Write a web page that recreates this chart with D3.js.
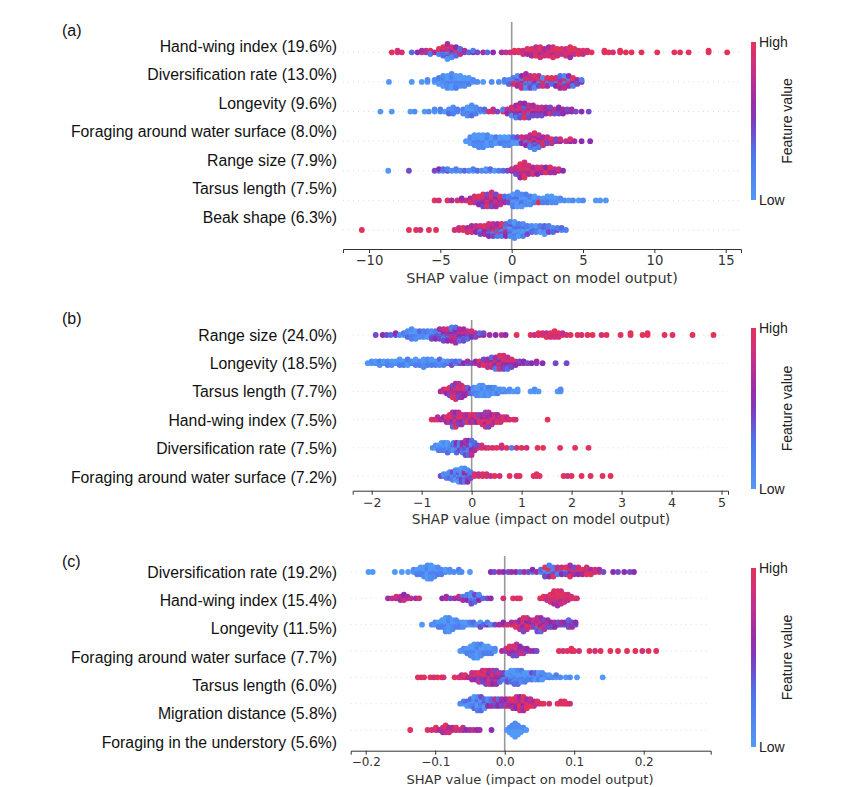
<!DOCTYPE html>
<html>
<head>
<meta charset="utf-8">
<script src="https://cdn.jsdelivr.net/npm/d3@7"></script>
<style>
  body { margin: 0; background: #fff; }
  text { font-family: "Liberation Sans", Arial, sans-serif; }
  .tick text, .xlab { font-family: "DejaVu Sans", sans-serif; }
</style>
</head>
<body>
<div id="chart"></div>
<script>
// feature labels (mean |SHAP| share in brackets)
var labelsA = ["Hand-wing index (19.6%)", "Diversification rate (13.0%)", "Longevity (9.6%)",
  "Foraging around water surface (8.0%)", "Range size (7.9%)", "Tarsus length (7.5%)", "Beak shape (6.3%)"];
var labelsB = ["Range size (24.0%)", "Longevity (18.5%)", "Tarsus length (7.7%)", "Hand-wing index (7.5%)",
  "Diversification rate (7.5%)", "Foraging around water surface (7.2%)"];
var labelsC = ["Diversification rate (19.2%)", "Hand-wing index (15.4%)", "Longevity (11.5%)",
  "Foraging around water surface (7.7%)", "Tarsus length (6.0%)", "Migration distance (5.8%)",
  "Foraging in the understory (5.6%)"];

var ticksA = [-10, -5, 0, 5, 10, 15];
var ticksB = [-2, -1, 0, 1, 2, 3, 4, 5];
var ticksC = [-0.2, -0.1, 0.0, 0.1, 0.2];

// shap values: [shap value, feature value of each point at that value (0 = low .. 9 = high)]
var shapA = [
  [[-8.4,"9"],[-8.0,"98"],[-7.7,"8"],[-7.0,"3"],[-6.6,"5"],[-6.3,"86"],[-6.0,"47"],[-5.7,"592"],[-5.4,"6"],[-5.1,"5829"],[-4.8,"472639"],[-4.5,"3518274906"],[-4.2,"7265381"],[-3.9,"248935"],[-3.6,"5273"],[-3.3,"46"],[-3.0,"3"],[-2.7,"52"],[-2.4,"4"],[-2.0,"6"],[-1.7,"3"],[-1.3,"5"],[-0.7,"6"],[-0.4,"7"],[-0.1,"8"],[0.2,"79"],[0.5,"89"],[0.8,"978"],[1.1,"8969"],[1.4,"89796"],[1.7,"798897"],[2.0,"9879698"],[2.3,"89768"],[2.6,"978986"],[2.9,"8979689"],[3.2,"79898"],[3.5,"8979"],[3.8,"98978"],[4.1,"7989896"],[4.4,"8979"],[4.7,"989"],[5.0,"897"],[5.3,"98"],[5.6,"9"],[6.5,"99"],[6.8,"9"],[7.1,"8"],[7.6,"99"],[8.0,"9"],[8.4,"9"],[9.1,"9"],[10.2,"9"],[11.4,"9"],[11.8,"9"],[12.4,"9"],[13.8,"99"],[15.1,"9"]],
  [[-8.6,"0"],[-7.0,"0"],[-6.3,"0"],[-5.9,"01"],[-5.4,"01"],[-5.1,"0102"],[-4.8,"101201"],[-4.5,"0120101"],[-4.2,"10210201"],[-3.9,"0120102"],[-3.6,"102010"],[-3.3,"01201"],[-3.0,"1020"],[-2.7,"01"],[-2.4,"1"],[-2.0,"0"],[-1.4,"1"],[-0.9,"1"],[-0.5,"12"],[-0.2,"213"],[0.1,"3182"],[0.4,"729461"],[0.7,"8362957"],[1.0,"47293816"],[1.3,"6928374"],[1.6,"2857391"],[1.9,"682947"],[2.2,"37918"],[2.5,"58296"],[2.8,"4739"],[3.1,"69285"],[3.4,"2874936"],[3.7,"5928417"],[4.0,"739265"],[4.3,"48592"],[4.6,"364"],[4.9,"52"]],
  [[-9.2,"0"],[-8.4,"0"],[-7.1,"0"],[-6.8,"1"],[-6.1,"0"],[-5.8,"1"],[-5.4,"01"],[-5.0,"12"],[-4.7,"0"],[-4.4,"213"],[-4.1,"1021"],[-3.8,"12"],[-3.4,"021"],[-3.1,"10201"],[-2.8,"201031"],[-2.5,"1021"],[-2.2,"02"],[-1.9,"13"],[-1.6,"8"],[-1.3,"97"],[-1.0,"4"],[-0.6,"92"],[-0.3,"875"],[0.0,"94681"],[0.3,"7958462"],[0.6,"89573946"],[0.9,"69847395"],[1.2,"5896374"],[1.5,"795846"],[1.8,"58674"],[2.1,"69574"],[2.4,"4756"],[2.7,"6584"],[3.0,"574"],[3.3,"6545"],[3.6,"465"],[3.9,"54"],[4.2,"56"],[4.5,"4"],[4.9,"5"],[5.4,"4"]],
  [[-3.2,"0"],[-2.9,"0101"],[-2.6,"102010"],[-2.3,"0120101"],[-2.0,"1020101"],[-1.7,"010201"],[-1.4,"10201"],[-1.1,"0102"],[-0.8,"1020"],[-0.5,"01201"],[-0.2,"10201"],[0.1,"2103"],[0.4,"1204"],[0.7,"3158"],[1.0,"69275"],[1.3,"8496372"],[1.6,"795836491"],[1.9,"6895472"],[2.2,"57968"],[2.5,"6847"],[2.8,"597"],[3.1,"64"],[3.4,"58"],[3.8,"7"],[4.1,"59"],[4.4,"6"],[4.9,"5"],[5.5,"5"]],
  [[-8.65,"0"],[-7.2,"4"],[-5.4,"4"],[-5.1,"25"],[-4.8,"13"],[-4.5,"42"],[-4.2,"1"],[-3.9,"02"],[-3.6,"1"],[-3.3,"3"],[-3.0,"1"],[-2.7,"02"],[-2.4,"3"],[-2.1,"1"],[-1.8,"20"],[-1.5,"13"],[-1.2,"0"],[-0.9,"2"],[-0.6,"3"],[-0.3,"4"],[0.0,"57"],[0.3,"89674"],[0.6,"978869795"],[0.9,"8979689798"],[1.2,"897968"],[1.5,"78968"],[1.8,"69785"],[2.1,"7868"],[2.4,"6795"],[2.7,"8769"],[3.0,"576"],[3.3,"68"],[3.6,"5"]],
  [[-5.4,"9"],[-5.1,"8"],[-4.5,"9"],[-4.2,"6"],[-3.8,"8"],[-3.5,"95"],[-3.2,"7"],[-2.9,"869"],[-2.6,"5978"],[-2.3,"68495"],[-2.0,"9768594"],[-1.7,"8596749"],[-1.4,"79586948"],[-1.1,"9685746"],[-0.8,"58697"],[-0.5,"7463"],[-0.2,"5242"],[0.1,"1203102"],[0.4,"02130101"],[0.7,"1020310"],[1.0,"201012"],[1.3,"01021"],[1.6,"1020"],[1.9,"019"],[2.2,"102"],[2.5,"0120"],[2.8,"1010"],[3.1,"201"],[3.4,"01"],[3.7,"1"],[4.0,"0"],[4.3,"1"],[4.7,"0"],[5.0,"1"],[5.9,"0"],[6.2,"0"],[6.6,"0"]],
  [[-10.5,"9"],[-7.2,"9"],[-6.7,"9"],[-6.4,"8"],[-5.8,"9"],[-5.3,"9"],[-4.0,"8"],[-3.7,"97"],[-3.4,"89"],[-3.1,"968"],[-2.8,"7986"],[-2.5,"8957"],[-2.2,"96284"],[-1.9,"78596"],[-1.6,"6947385"],[-1.3,"8596274"],[-1.0,"5837962"],[-0.7,"3618492"],[-0.4,"4172635"],[-0.1,"10203412"],[0.2,"021301201"],[0.5,"1203120"],[0.8,"2103012"],[1.1,"31024"],[1.4,"2031"],[1.7,"1420"],[2.0,"3102"],[2.3,"24130"],[2.6,"3142"],[2.9,"213"],[3.2,"42"],[3.5,"13"],[3.8,"2"]]
];

var shapB = [
  [[-1.92,"4"],[-1.78,"5"],[-1.7,"4"],[-1.62,"3"],[-1.52,"45"],[-1.44,"1"],[-1.36,"02"],[-1.28,"1031"],[-1.2,"012021"],[-1.12,"10201"],[-1.04,"2013"],[-0.96,"0212"],[-0.88,"1302"],[-0.8,"20314"],[-0.72,"31425"],[-0.64,"253146"],[-0.56,"4635274"],[-0.48,"5746385"],[-0.4,"46758362"],[-0.32,"574685736"],[-0.24,"6857463"],[-0.16,"4758364"],[-0.08,"56473"],[0.0,"4658"],[0.08,"574"],[0.16,"63"],[0.24,"54"],[0.36,"6"],[0.48,"5"],[0.6,"7"],[0.68,"5"],[0.9,"9"],[1.18,"9"],[1.26,"7"],[1.34,"89"],[1.42,"98"],[1.5,"979"],[1.58,"898"],[1.66,"9789"],[1.74,"898"],[1.82,"97"],[1.9,"8"],[1.98,"9"],[2.12,"9"],[2.2,"8"],[2.32,"9"],[2.42,"9"],[2.6,"8"],[2.7,"9"],[2.98,"9"],[3.18,"99"],[3.42,"9"],[3.52,"99"],[3.86,"9"],[4.02,"9"],[4.42,"9"],[4.84,"9"]],
  [[-2.08,"0"],[-2.0,"01"],[-1.92,"10"],[-1.84,"021"],[-1.76,"10"],[-1.68,"012"],[-1.6,"201"],[-1.52,"10"],[-1.44,"0120"],[-1.36,"102"],[-1.28,"0102"],[-1.2,"21"],[-1.12,"1020"],[-1.04,"012"],[-0.96,"20101"],[-0.88,"1021"],[-0.8,"0120"],[-0.72,"102"],[-0.64,"2013"],[-0.56,"102"],[-0.48,"31"],[-0.4,"024"],[-0.32,"13"],[-0.24,"42"],[-0.16,"5"],[-0.08,"36"],[0.0,"4"],[0.08,"85"],[0.16,"796"],[0.24,"8694"],[0.32,"95867"],[0.4,"689573"],[0.48,"7958462"],[0.56,"86957489"],[0.64,"97586948"],[0.72,"6859473"],[0.8,"57684"],[0.88,"685"],[0.96,"54"],[1.04,"65"],[1.12,"4"],[1.2,"5"],[1.3,"46"],[1.42,"5"],[1.68,"4"],[1.9,"4"]],
  [[-0.62,"6"],[-0.56,"87"],[-0.5,"695"],[-0.44,"78694"],[-0.38,"9685749"],[-0.32,"586974968"],[-0.26,"79586947"],[-0.2,"6958476"],[-0.14,"58695"],[-0.08,"4763"],[-0.02,"253"],[0.04,"1021"],[0.1,"01201"],[0.16,"102010"],[0.22,"010201"],[0.28,"20101"],[0.34,"01020"],[0.4,"1012"],[0.46,"0201"],[0.52,"102"],[0.58,"01"],[0.64,"20"],[0.7,"1"],[0.76,"01"],[0.84,"0"],[0.92,"10"],[1.18,"0"],[1.26,"01"],[1.34,"0"],[1.72,"0"],[1.78,"01"]],
  [[-0.8,"9"],[-0.74,"8"],[-0.68,"97"],[-0.62,"6"],[-0.56,"85"],[-0.5,"796"],[-0.44,"4879"],[-0.38,"6958473"],[-0.32,"8694759"],[-0.26,"596847"],[-0.2,"79586"],[-0.14,"6847"],[-0.08,"5796"],[-0.02,"4869"],[0.04,"9578"],[0.1,"6958"],[0.16,"2894"],[0.22,"75968"],[0.28,"8697548"],[0.34,"9586974"],[0.4,"68957"],[0.46,"7968"],[0.52,"8796"],[0.58,"978"],[0.64,"89"],[0.7,"97"],[0.76,"8"],[0.84,"9"],[0.88,"8"],[1.52,"9"]],
  [[-0.78,"1"],[-0.72,"01"],[-0.66,"102"],[-0.6,"0120"],[-0.54,"1021"],[-0.48,"20103"],[-0.42,"012"],[-0.36,"1302"],[-0.3,"24153"],[-0.24,"3142"],[-0.18,"46352"],[-0.12,"5346274"],[-0.06,"3624153"],[0.0,"4251637"],[0.06,"5463"],[0.12,"74"],[0.2,"98"],[0.28,"7"],[0.34,"9"],[0.42,"8"],[0.5,"9"],[0.6,"78"],[0.7,"9"],[0.8,"2"],[0.9,"8"],[1.0,"9"],[1.1,"8"],[1.32,"9"],[1.43,"9"],[1.77,"9"],[2.07,"9"],[2.34,"9"]],
  [[-0.62,"4"],[-0.56,"21"],[-0.5,"012"],[-0.44,"1031"],[-0.38,"20142"],[-0.32,"013201"],[-0.26,"1024310"],[-0.2,"30215140"],[-0.14,"14253621"],[-0.08,"2536415"],[-0.02,"3142"],[0.06,"98"],[0.14,"97"],[0.22,"89"],[0.3,"98"],[0.38,"7"],[0.46,"9"],[0.56,"8"],[0.76,"9"],[0.9,"8"],[0.96,"9"],[1.24,"9"],[1.3,"89"],[1.36,"9"],[1.84,"9"],[1.92,"8"],[2.0,"9"],[2.2,"9"],[2.38,"9"],[2.62,"9"],[2.78,"9"]]
];

var shapC = [
  [[-0.196,"0"],[-0.19,"0"],[-0.158,"0"],[-0.148,"0"],[-0.139,"0"],[-0.131,"01"],[-0.126,"102"],[-0.121,"0120"],[-0.116,"10201"],[-0.111,"0102010"],[-0.106,"1020101"],[-0.101,"01201"],[-0.096,"1021"],[-0.091,"012"],[-0.085,"10"],[-0.079,"01"],[-0.073,"1"],[-0.066,"02"],[-0.062,"1"],[-0.05,"0"],[-0.02,"5"],[-0.015,"4"],[-0.008,"6"],[-0.002,"5"],[0.005,"4"],[0.01,"6"],[0.016,"5"],[0.022,"3"],[0.028,"6"],[0.034,"4"],[0.04,"25"],[0.046,"6"],[0.052,"13"],[0.058,"70294"],[0.064,"391852"],[0.07,"81429"],[0.076,"4827"],[0.082,"9358"],[0.088,"6149"],[0.094,"275896"],[0.1,"8964"],[0.106,"7958"],[0.112,"896"],[0.118,"5798"],[0.124,"869"],[0.13,"78"],[0.136,"96"],[0.142,"4"],[0.156,"5"],[0.163,"4"],[0.172,"5"],[0.18,"4"],[0.186,"5"]],
  [[-0.168,"6"],[-0.162,"7"],[-0.156,"68"],[-0.15,"576"],[-0.145,"7685"],[-0.14,"86"],[-0.135,"7"],[-0.128,"6"],[-0.123,"8"],[-0.09,"5"],[-0.084,"76"],[-0.078,"4"],[-0.072,"6"],[-0.066,"57"],[-0.06,"426"],[-0.054,"3152"],[-0.048,"1020314"],[-0.043,"20143"],[-0.037,"4251"],[-0.031,"3"],[-0.025,"4"],[-0.02,"5"],[-0.002,"8"],[0.012,"9"],[0.018,"8"],[0.022,"9"],[0.051,"9"],[0.056,"89"],[0.061,"987"],[0.066,"79898"],[0.071,"89799868"],[0.076,"978989796"],[0.081,"89896978"],[0.086,"79898"],[0.091,"8978"],[0.096,"98"],[0.101,"9"],[0.104,"8"]],
  [[-0.119,"0"],[-0.105,"1"],[-0.1,"01"],[-0.095,"102"],[-0.09,"0120"],[-0.085,"1020101"],[-0.08,"0102010"],[-0.075,"20101"],[-0.07,"1021"],[-0.065,"012"],[-0.06,"201"],[-0.055,"10"],[-0.05,"02"],[-0.045,"13"],[-0.04,"1"],[-0.035,"204"],[-0.03,"3"],[-0.025,"52"],[-0.02,"1"],[-0.014,"4"],[-0.008,"6"],[-0.002,"75"],[0.004,"8"],[0.01,"96"],[0.016,"879"],[0.022,"96857"],[0.027,"7958694"],[0.032,"869578"],[0.037,"9586"],[0.042,"7648"],[0.047,"5896374"],[0.052,"4758963"],[0.057,"65847"],[0.062,"5746"],[0.067,"654"],[0.072,"465"],[0.077,"54"],[0.082,"46"],[0.087,"45"],[0.092,"5643"],[0.097,"546"],[0.102,"45"]],
  [[-0.064,"0"],[-0.059,"01"],[-0.054,"102"],[-0.049,"01201"],[-0.044,"1020101"],[-0.039,"0102010"],[-0.034,"201012"],[-0.029,"1020"],[-0.024,"0120"],[-0.019,"102"],[-0.014,"01"],[-0.004,"6"],[0.002,"47"],[0.007,"5869"],[0.012,"67584"],[0.017,"586947"],[0.022,"4675"],[0.027,"567"],[0.032,"45"],[0.037,"6"],[0.042,"5"],[0.046,"4"],[0.078,"9"],[0.084,"8"],[0.09,"9"],[0.096,"89"],[0.1,"9"],[0.107,"8"],[0.122,"9"],[0.13,"8"],[0.138,"9"],[0.152,"9"],[0.163,"9"],[0.176,"9"],[0.188,"9"],[0.198,"8"],[0.207,"9"],[0.218,"9"]],
  [[-0.125,"9"],[-0.12,"8"],[-0.116,"9"],[-0.107,"9"],[-0.102,"8"],[-0.097,"9"],[-0.091,"9"],[-0.088,"8"],[-0.072,"9"],[-0.066,"8"],[-0.062,"97"],[-0.057,"89"],[-0.052,"6"],[-0.047,"9867"],[-0.042,"7958"],[-0.037,"68497"],[-0.032,"586947"],[-0.027,"7958694"],[-0.022,"6485968"],[-0.017,"5968475"],[-0.012,"8657946"],[-0.007,"46583"],[-0.002,"3524"],[0.004,"21304"],[0.009,"102130"],[0.014,"0120103"],[0.019,"2010213"],[0.024,"102012"],[0.029,"30102"],[0.034,"0120"],[0.039,"1024"],[0.044,"2103"],[0.049,"0120"],[0.054,"1301"],[0.059,"01"],[0.064,"20"],[0.069,"1"],[0.074,"02"],[0.08,"1"],[0.088,"0"],[0.094,"1"],[0.104,"0"],[0.141,"0"]],
  [[-0.064,"1"],[-0.059,"02"],[-0.054,"130"],[-0.049,"2013"],[-0.044,"102130"],[-0.039,"2103012"],[-0.034,"3120143"],[-0.029,"24130"],[-0.024,"3251"],[-0.019,"4263"],[-0.014,"5347"],[-0.009,"4653"],[-0.004,"2546"],[0.002,"6475"],[0.007,"5768"],[0.012,"68597"],[0.017,"796858"],[0.022,"8697958"],[0.027,"6958796"],[0.032,"79869"],[0.037,"8697"],[0.042,"968"],[0.047,"79"],[0.052,"8"],[0.056,"9"],[0.064,"8"],[0.076,"9"],[0.081,"98"],[0.086,"89"],[0.09,"9"],[0.094,"8"]],
  [[-0.136,"9"],[-0.111,"9"],[-0.105,"8"],[-0.099,"79"],[-0.094,"6"],[-0.089,"786"],[-0.085,"6879"],[-0.08,"768"],[-0.075,"86"],[-0.07,"79"],[-0.065,"8"],[-0.06,"67"],[-0.055,"5"],[-0.05,"6"],[-0.045,"7"],[-0.04,"5"],[-0.036,"6"],[-0.019,"5"],[0.003,"0"],[0.007,"010"],[0.011,"01010"],[0.015,"0101010"],[0.019,"01010"],[0.023,"010"],[0.027,"01"],[0.031,"0"]]
];

var W = 865, H = 787;

// low -> high feature value
var color = d3.scaleLinear()
    .domain([0, 0.3, 0.55, 0.8, 1])
    .range(["#5299f7", "#4f74ea", "#8b2cb2", "#c42f8c", "#e2325b"])
    .interpolate(d3.interpolateRgb);

var svg = d3.select("#chart").append("svg")
    .attr("width", W)
    .attr("height", H);
svg.append("rect").attr("width", W).attr("height", H).attr("fill", "#fff");

var grad = svg.append("defs").append("linearGradient")
    .attr("id", "cbar").attr("x1", 0).attr("y1", 1).attr("x2", 0).attr("y2", 0);
d3.range(0, 1.001, 0.1).forEach(function (t) {
    grad.append("stop").attr("offset", t).attr("stop-color", color(t));
});

function drawPanel(p) {
    var g = svg.append("g");
    var n = p.labels.length;

    var x = d3.scaleLinear().domain(p.domain).range([p.x0, p.x1]);
    var yRow = d3.scalePoint().domain(d3.range(n)).range([p.rowTop, p.rowBottom]);
    var yLab = d3.scalePoint().domain(d3.range(n)).range([p.labTop, p.labBottom]);
    var rowSp = yRow.step();

    // dotted row guides
    g.selectAll(".guide").data(d3.range(n)).enter().append("line")
        .attr("x1", p.x0).attr("x2", p.x1)
        .attr("y1", function (i) { return yRow(i); })
        .attr("y2", function (i) { return yRow(i); })
        .attr("stroke", "#cccccc").attr("stroke-width", 0.7)
        .attr("stroke-dasharray", "1,4");

    // zero line
    g.append("line")
        .attr("x1", x(0)).attr("x2", x(0))
        .attr("y1", p.zeroTop).attr("y2", p.axisY)
        .attr("stroke", "#999999").attr("stroke-width", 1.6);

    // beeswarm: points with the same shap value stack alternately up / down
    p.shap.forEach(function (row, i) {
        var pts = [];
        row.forEach(function (e) {
            for (var k = 0; k < e[1].length; k++) {
                var ys = Math.ceil(k / 2) * (k % 2 ? -1 : 1);
                pts.push({v: e[0], c: +e[1][k] / 9, ys: ys});
            }
        });
        var maxYs = d3.max(pts, function (d) { return Math.abs(d.ys); });
        var step = 0.34 * rowSp / (maxYs + 1);
        g.append("g").selectAll("circle").data(pts).enter().append("circle")
            .attr("cx", function (d) { return x(d.v); })
            .attr("cy", function (d) { return yRow(i) + d.ys * step; })
            .attr("r", 2.9)
            .attr("fill", function (d) { return color(d.c); });
    });

    // feature labels
    g.selectAll(".lab").data(p.labels).enter().append("text")
        .attr("x", 337)
        .attr("y", function (d, i) { return yLab(i); })
        .attr("dy", "0.35em")
        .attr("text-anchor", "end")
        .attr("font-size", 15.8)
        .attr("fill", "#111")
        .text(function (d) { return d; });

    // panel letter
    g.append("text")
        .attr("x", 62).attr("y", p.letterY).attr("dy", "0.35em")
        .attr("font-size", 16).attr("fill", "#111")
        .text(p.letter);

    // x axis
    var ax = g.append("g")
        .attr("transform", "translate(0," + p.axisY + ")")
        .call(d3.axisBottom(x).tickValues(p.ticks).tickSizeOuter(0).tickSize(4).tickPadding(3)
            .tickFormat(p.fmt));
    ax.select(".domain").attr("stroke", "#333");
    ax.selectAll(".tick line").attr("stroke", "#333");
    ax.selectAll(".tick text").attr("fill", "#333").attr("font-size", p.tickSize);

    g.append("text").attr("class", "xlab")
        .attr("x", p.labelX).attr("y", p.axisY + 28.5)
        .attr("dy", "0.35em")
        .attr("text-anchor", "middle")
        .attr("font-size", p.labelSize).attr("fill", "#333")
        .text("SHAP value (impact on model output)");

    // colour bar
    g.append("rect")
        .attr("x", 751).attr("y", p.cbTop)
        .attr("width", 5).attr("height", p.cbBottom - p.cbTop)
        .attr("fill", "url(#cbar)");
    g.append("text").attr("x", 759).attr("y", p.cbTop).attr("dy", "0.35em")
        .attr("font-size", 14).attr("fill", "#222").text("High");
    g.append("text").attr("x", 759).attr("y", p.cbBottom).attr("dy", "0.35em")
        .attr("font-size", 14).attr("fill", "#222").text("Low");
    var mid = (p.cbTop + p.cbBottom) / 2;
    g.append("text")
        .attr("transform", "translate(787," + mid + ") rotate(-90)")
        .attr("text-anchor", "middle").attr("dy", "0.35em")
        .attr("font-size", 14).attr("fill", "#222")
        .text("Feature value");
}

drawPanel({
    letter: "(a)", letterY: 30, labels: labelsA, shap: shapA, ticks: ticksA,
    fmt: d3.format("d"), domain: [-11.82, 16.07], x0: 343, x1: 741,
    rowTop: 52.3, rowBottom: 230, labTop: 46, labBottom: 217,
    zeroTop: 22, axisY: 249, labelX: 542, labelSize: 14.4, tickSize: 13.2,
    cbTop: 42, cbBottom: 200
});
drawPanel({
    letter: "(b)", letterY: 318, labels: labelsB, shap: shapB, ticks: ticksB,
    fmt: d3.format("d"), domain: [-2.38, 5.13], x0: 352.7, x1: 728,
    rowTop: 335, rowBottom: 476, labTop: 335, labBottom: 477,
    zeroTop: 320, axisY: 490.7, labelX: 541, labelSize: 13.7, tickSize: 12.6,
    cbTop: 328, cbBottom: 489
});
drawPanel({
    letter: "(c)", letterY: 561, labels: labelsC, shap: shapC, ticks: ticksC,
    fmt: d3.format(".1f"), domain: [-0.2216, 0.2964], x0: 350.7, x1: 710.7,
    rowTop: 572, rowBottom: 730, labTop: 572, labBottom: 742,
    zeroTop: 556, axisY: 750.7, labelX: 530, labelSize: 13.1, tickSize: 12,
    cbTop: 568, cbBottom: 747
});
</script>
</body>
</html>
